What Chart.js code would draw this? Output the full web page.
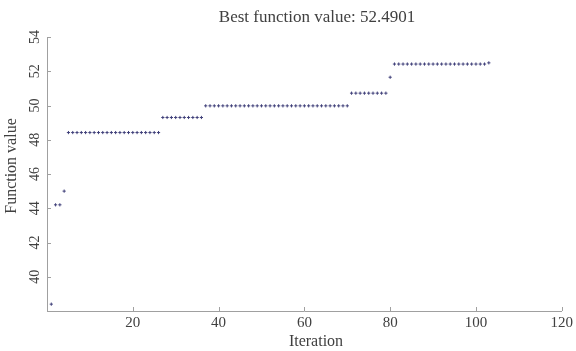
<!DOCTYPE html>
<html>
<head>
<meta charset="utf-8">
<script src="https://cdn.jsdelivr.net/npm/chart.js@4"></script>
<style>
    html, body { margin: 0; padding: 0; background: #fff; }
    #chart { display: block; }
</style>
</head>
<body>
<canvas id="chart" width="576" height="351"></canvas>
<script>
// Best function value per iteration
const iterations = [
    1, 2, 3, 4, 5, 6, 7, 8, 9, 10, 11, 12, 13, 14, 15, 16, 17, 18, 19, 20,
    21, 22, 23, 24, 25, 26, 27, 28, 29, 30, 31, 32, 33, 34, 35, 36, 37, 38, 39, 40,
    41, 42, 43, 44, 45, 46, 47, 48, 49, 50, 51, 52, 53, 54, 55, 56, 57, 58, 59, 60,
    61, 62, 63, 64, 65, 66, 67, 68, 69, 70, 71, 72, 73, 74, 75, 76, 77, 78, 79, 80,
    81, 82, 83, 84, 85, 86, 87, 88, 89, 90, 91, 92, 93, 94, 95, 96, 97, 98, 99, 100,
    101, 102, 103
];
const fvals = [
    38.4, 44.2, 44.2, 45.0, 48.42, 48.42, 48.42, 48.42, 48.42, 48.42,
    48.42, 48.42, 48.42, 48.42, 48.42, 48.42, 48.42, 48.42, 48.42, 48.42,
    48.42, 48.42, 48.42, 48.42, 48.42, 48.42, 49.3, 49.3, 49.3, 49.3,
    49.3, 49.3, 49.3, 49.3, 49.3, 49.3, 49.98, 49.98, 49.98, 49.98,
    49.98, 49.98, 49.98, 49.98, 49.98, 49.98, 49.98, 49.98, 49.98, 49.98,
    49.98, 49.98, 49.98, 49.98, 49.98, 49.98, 49.98, 49.98, 49.98, 49.98,
    49.98, 49.98, 49.98, 49.98, 49.98, 49.98, 49.98, 49.98, 49.98, 49.98,
    50.72, 50.72, 50.72, 50.72, 50.72, 50.72, 50.72, 50.72, 50.72, 51.65,
    52.42, 52.42, 52.42, 52.42, 52.42, 52.42, 52.42, 52.42, 52.42, 52.42,
    52.42, 52.42, 52.42, 52.42, 52.42, 52.42, 52.42, 52.42, 52.42, 52.42,
    52.42, 52.42, 52.4901
];
const xTicks = [20, 40, 60, 80, 100, 120];
const yTicks = [40, 42, 44, 46, 48, 50, 52, 54];
const titleText = 'Best function value: 52.4901';
const xTitle = 'Iteration';
const yTitle = 'Function value';

const serif = '"Liberation Serif", "DejaVu Serif", serif';
const textColor = '#404040';
const axisColor = '#a0a0a0';

// inward tick marks + titles, MATLAB style
const matlabAxes = {
    id: 'matlabAxes',
    afterDraw(chart) {
        const ctx = chart.ctx;
        const area = chart.chartArea;
        const xs = chart.scales.x;
        const ys = chart.scales.y;
        ctx.save();
        ctx.strokeStyle = axisColor;
        ctx.lineWidth = 1;
        ctx.beginPath();
        xTicks.forEach(v => {
            const px = Math.round(xs.getPixelForValue(v)) + 0.5;
            ctx.moveTo(px, area.bottom);
            ctx.lineTo(px, area.bottom - 4);
        });
        yTicks.forEach(v => {
            const py = Math.round(ys.getPixelForValue(v)) + 0.5;
            ctx.moveTo(area.left, py);
            ctx.lineTo(area.left + 4, py);
        });
        ctx.stroke();

        ctx.fillStyle = textColor;
        ctx.textAlign = 'center';
        ctx.textBaseline = 'middle';
        ctx.font = '17px ' + serif;
        ctx.fillText(titleText, 317, 18);
        ctx.font = '16px ' + serif;
        ctx.fillText(xTitle, 316, 342);
        ctx.translate(12, 166);
        ctx.rotate(-Math.PI / 2);
        ctx.fillText(yTitle, 0, 0);
        ctx.restore();
    }
};

const ctx = document.getElementById('chart').getContext('2d');
const chart = new Chart(ctx, {
    type: 'scatter',
    data: {
        datasets: [{
            data: iterations.map((it, i) => ({ x: it, y: fvals[i] })),
            pointStyle: 'cross',
            pointRadius: 1.6,
            pointBorderWidth: 1,
            borderColor: '#40407a',
            backgroundColor: '#40407a'
        }]
    },
    options: {
        responsive: false,
        animation: false,
        layout: { padding: { top: 37, right: 13, left: 0, bottom: 0 } },
        plugins: {
            legend: { display: false },
            tooltip: { enabled: false },
            title: { display: false }
        },
        scales: {
            x: {
                type: 'linear',
                min: 0,
                max: 120,
                afterBuildTicks: s => { s.ticks = xTicks.map(v => ({ value: v })); },
                afterFit: s => { s.height = 40; },
                grid: { display: false, drawTicks: false },
                border: { display: true, color: axisColor, width: 1 },
                ticks: {
                    color: textColor,
                    font: { family: serif, size: 15 },
                    padding: 3,
                    maxRotation: 0
                }
            },
            y: {
                min: 38,
                max: 54,
                afterBuildTicks: s => { s.ticks = yTicks.map(v => ({ value: v })); },
                afterFit: s => { s.width = 47; },
                grid: { display: false, drawTicks: false },
                border: { display: true, color: axisColor, width: 1 },
                ticks: {
                    color: textColor,
                    font: { family: serif, size: 14 },
                    padding: 5,
                    minRotation: 90,
                    maxRotation: 90,
                    crossAlign: 'center'
                }
            }
        }
    },
    plugins: [matlabAxes]
});
</script>
</body>
</html>
